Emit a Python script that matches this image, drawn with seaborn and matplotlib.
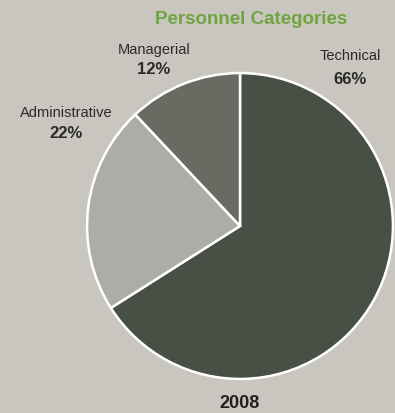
import matplotlib
matplotlib.use("Agg")
import matplotlib.pyplot as plt
from matplotlib import font_manager
import seaborn as sns

# Personnel share by category, 2008
categories = ["Technical", "Administrative", "Managerial"]
shares = [66, 22, 12]
year_label = "2008"
title = "Personnel Categories"

colors = ["#484f45", "#adada8", "#696b62"]
bg = "#c9c6c0"

sns.set_theme(style="white")
names = {f.name for f in font_manager.fontManager.ttflist}
family = "Liberation Sans Narrow" if "Liberation Sans Narrow" in names else "Liberation Sans"
plt.rcParams["font.family"] = [family, "DejaVu Sans"]

W, H = 395, 413
fig = plt.figure(figsize=(W / 100, H / 100), dpi=100, facecolor=bg)

cx, cy, r = 240, 226, 156
ax = fig.add_axes([(cx - r) / W, (H - cy - r) / H, 2 * r / W, 2 * r / H])
ax.set_facecolor(bg)
ax.pie(shares, colors=colors, startangle=90, counterclock=False, radius=1,
       wedgeprops=dict(edgecolor="white", linewidth=1.8))
ax.set_xlim(-1.02, 1.02)
ax.set_ylim(-1.02, 1.02)
ax.set_aspect("equal")
ax.axis("off")


def px(x, y):
    return x / W, 1 - y / H


fig.text(*px(251, 20), title, color="#6fa540", fontsize=13.5, fontweight="bold",
         ha="center", va="center")

label_pos = {
    "Technical": (350, 56, 79),
    "Administrative": (66, 113, 133),
    "Managerial": (154, 50, 70),
}
for name, val in zip(categories, shares):
    x, y1, y2 = label_pos[name]
    fig.text(*px(x, y1), name, color="#2a2a2a", fontsize=10.5, ha="center", va="center")
    fig.text(*px(x, y2), f"{val}%", color="#2a2a2a", fontsize=12, fontweight="bold",
             ha="center", va="center")

fig.text(*px(240, 403), year_label, color="#231f20", fontsize=13, fontweight="bold",
         ha="center", va="center")

fig.savefig("out.png", dpi=100, facecolor=bg)
